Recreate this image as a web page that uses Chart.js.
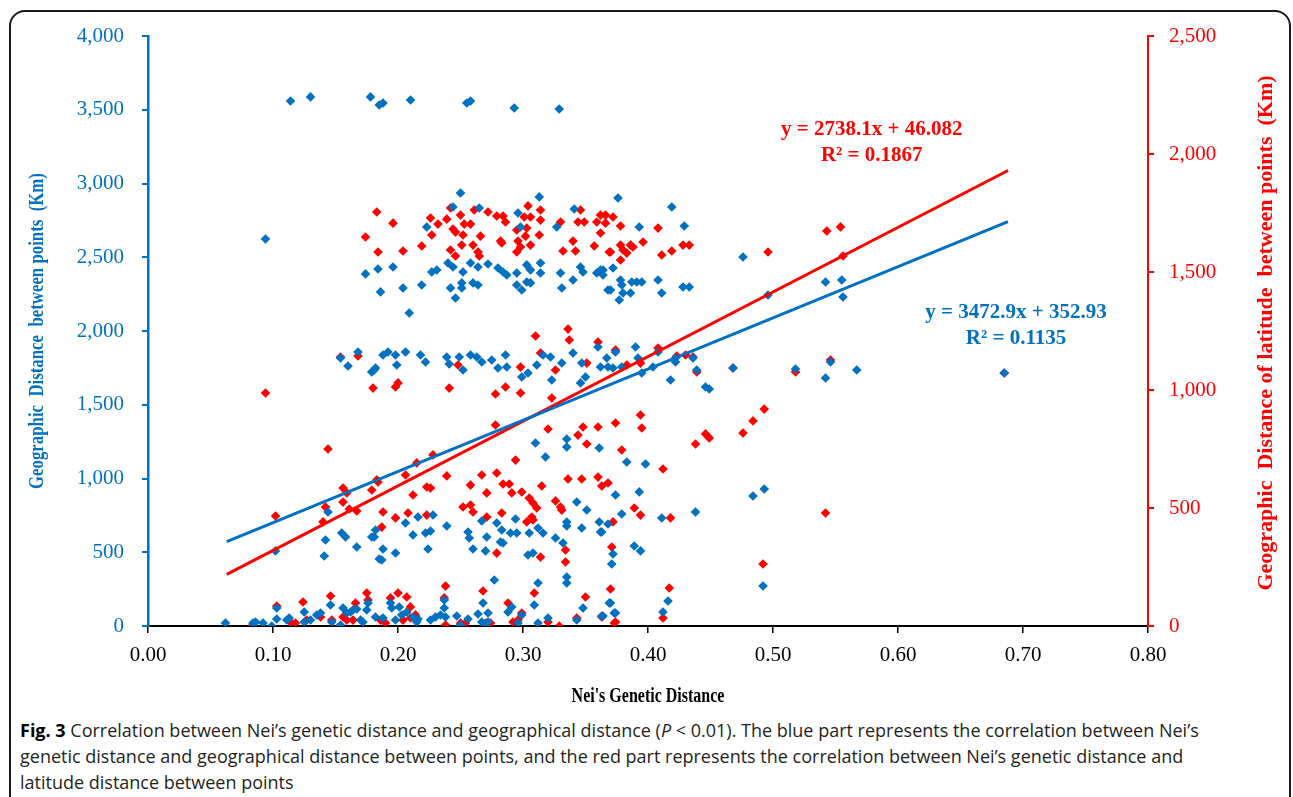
<!DOCTYPE html>
<html>
<head>
<meta charset="utf-8">
<script src="https://cdn.jsdelivr.net/npm/chart.js@4.4.1/dist/chart.umd.min.js"></script>
<style>
  html, body { margin: 0; padding: 0; background: #fff; }
  body { width: 1293px; height: 797px; position: relative; overflow: hidden; }
  #frame {
    position: absolute; left: 9px; top: 10px; width: 1282px; height: 830px;
    border: 2px solid #1a1a1a; border-radius: 16px; box-sizing: border-box;
  }
  #chartCanvas { position: absolute; left: 0; top: 0; }
  #caption {
    position: absolute; left: 20px; top: 717px;
    font-family: "Liberation Sans Narrow", "Open Sans", sans-serif;
    font-size: 18px; line-height: 26px; color: #231f20; white-space: nowrap;
  }
  #caption b { color: #000; }
</style>
</head>
<body>
<div id="frame"></div>
<canvas id="chartCanvas" width="1293" height="715"></canvas>
<div id="caption">
  <div><b>Fig. 3</b> Correlation between Nei’s genetic distance and geographical distance (<i>P</i> &lt; 0.01). The blue part represents the correlation between Nei’s</div>
  <div>genetic distance and geographical distance between points, and the red part represents the correlation between Nei’s genetic distance and</div>
  <div>latitude distance between points</div>
</div>
<script>
// Nei's genetic distance vs geographic distance between points (Km, left axis)
const blueTop = [
  [0.114, 3559], [0.130, 3587], [0.178, 3587], [0.185, 3532], [0.188, 3546],
  [0.210, 3566], [0.255, 3546], [0.258, 3559], [0.293, 3512], [0.329, 3505],
];
const blueUpper = [
  [0.094, 2624], [0.376, 2902], [0.419, 2841], [0.393, 2705], [0.429, 2712], [0.250, 2936],
  [0.313, 2909], [0.244, 2841], [0.265, 2834], [0.296, 2800], [0.341, 2827], [0.223, 2705],
  [0.298, 2705], [0.327, 2705], [0.184, 2420], [0.196, 2434], [0.227, 2400], [0.231, 2414],
  [0.240, 2461], [0.244, 2434], [0.252, 2400], [0.258, 2461], [0.264, 2434], [0.272, 2454],
  [0.280, 2427], [0.284, 2400], [0.287, 2380], [0.295, 2393], [0.303, 2448], [0.306, 2414],
  [0.314, 2461], [0.314, 2393], [0.330, 2393], [0.346, 2434], [0.348, 2400], [0.340, 2346],
  [0.359, 2393], [0.364, 2414], [0.186, 2265], [0.204, 2292], [0.219, 2312], [0.242, 2292],
  [0.251, 2326], [0.251, 2292], [0.260, 2326], [0.264, 2312], [0.246, 2224], [0.295, 2312],
  [0.299, 2278], [0.303, 2332], [0.306, 2326], [0.331, 2292], [0.368, 2278], [0.209, 2122],
  [0.174, 2387], [0.362, 2414], [0.364, 2380], [0.372, 2427], [0.378, 2346], [0.379, 2312],
  [0.370, 2278], [0.380, 2258], [0.386, 2258], [0.377, 2210], [0.387, 2332], [0.391, 2332],
  [0.395, 2332], [0.408, 2346], [0.411, 2258], [0.428, 2298], [0.433, 2298], [0.476, 2502],
  [0.496, 2244], [0.542, 2332], [0.555, 2346], [0.556, 2231],
];
const blueMiddle = [
  [0.154, 1817], [0.168, 1858], [0.160, 1763], [0.179, 1722], [0.182, 1749], [0.188, 1837],
  [0.192, 1858], [0.198, 1837], [0.206, 1858], [0.218, 1837], [0.222, 1790], [0.239, 1824],
  [0.241, 1776], [0.249, 1824], [0.252, 1736], [0.258, 1837], [0.263, 1824], [0.267, 1790],
  [0.275, 1803], [0.280, 1749], [0.286, 1837], [0.287, 1756], [0.299, 1688], [0.304, 1715],
  [0.311, 1770], [0.316, 1837], [0.322, 1824], [0.323, 1668], [0.331, 1783], [0.340, 1851],
  [0.347, 1783], [0.346, 1648], [0.350, 1688], [0.360, 1892], [0.362, 1756], [0.368, 1756],
  [0.181, 1736], [0.199, 1770], [0.374, 1858], [0.390, 1892], [0.408, 1858], [0.367, 1817],
  [0.372, 1749], [0.379, 1756], [0.392, 1817], [0.404, 1756], [0.395, 1715], [0.422, 1817],
  [0.422, 1790], [0.436, 1817], [0.439, 1736], [0.418, 1668], [0.446, 1620], [0.449, 1607],
  [0.468, 1749], [0.518, 1742], [0.546, 1790], [0.542, 1681], [0.567, 1736], [0.685, 1715],
];
const blueLower = [
  [0.144, 773], [0.142, 583], [0.141, 475], [0.155, 631], [0.158, 603], [0.167, 536],
  [0.179, 603], [0.182, 651], [0.185, 454], [0.102, 509], [0.310, 1241], [0.318, 1146],
  [0.335, 1268], [0.335, 1214], [0.361, 1207], [0.216, 739], [0.228, 753], [0.206, 698],
  [0.212, 617], [0.222, 631], [0.226, 644], [0.224, 522], [0.239, 678], [0.256, 637],
  [0.257, 597], [0.260, 522], [0.271, 603], [0.267, 712], [0.279, 698], [0.283, 651],
  [0.282, 570], [0.284, 563], [0.290, 631], [0.294, 725], [0.295, 631], [0.305, 631],
  [0.304, 481], [0.308, 495], [0.312, 664], [0.316, 631], [0.326, 597], [0.332, 563],
  [0.335, 705], [0.335, 678], [0.343, 841], [0.351, 786], [0.347, 664], [0.361, 705],
  [0.362, 637], [0.181, 603], [0.188, 522], [0.187, 447], [0.198, 495], [0.270, 509],
  [0.277, 312], [0.312, 292], [0.335, 332], [0.335, 292], [0.383, 1112], [0.398, 1098],
  [0.374, 888], [0.393, 909], [0.379, 759], [0.411, 732], [0.438, 773], [0.484, 881],
  [0.493, 929], [0.368, 692], [0.363, 637], [0.389, 542], [0.394, 509], [0.372, 488],
  [0.371, 420], [0.492, 271],
];
const blueBottom = [
  [0.369, 156], [0.416, 170], [0.364, 68], [0.374, 88], [0.412, 95], [0.062, 20],
  [0.084, 20], [0.086, 27], [0.092, 20], [0.099, 0], [0.103, 122], [0.103, 47],
  [0.111, 41], [0.113, 54], [0.125, 95], [0.125, 27], [0.130, 41], [0.135, 75],
  [0.138, 88], [0.146, 142], [0.147, 27], [0.154, 7], [0.156, 122], [0.159, 88],
  [0.162, 95], [0.164, 108], [0.167, 115], [0.170, 41], [0.175, 108], [0.172, 27],
  [0.176, 156], [0.182, 61], [0.188, 54], [0.194, 156], [0.195, 122], [0.198, 41],
  [0.201, 129], [0.203, 75], [0.207, 95], [0.212, 61], [0.215, 27], [0.216, 47],
  [0.226, 41], [0.230, 61], [0.234, 75], [0.237, 176], [0.237, 122], [0.238, 61],
  [0.247, 68], [0.250, 7], [0.256, 47], [0.264, 81], [0.267, 27], [0.270, 20],
  [0.272, 27], [0.268, 156], [0.272, 88], [0.288, 95], [0.291, 129], [0.296, 20],
  [0.299, 75], [0.309, 142], [0.312, 20], [0.320, 54], [0.343, 41], [0.348, 122],
  [0.363, 68], [0.370, 156], [0.373, 88],
];

// Nei's genetic distance vs latitude distance between points (Km, right axis)
const redUpper = [
  [0.183, 1754], [0.174, 1648], [0.184, 1585], [0.196, 1707], [0.226, 1729], [0.232, 1703],
  [0.227, 1657], [0.239, 1724], [0.242, 1771], [0.250, 1741], [0.244, 1682], [0.246, 1669],
  [0.253, 1703], [0.258, 1703], [0.252, 1657], [0.261, 1763], [0.272, 1754], [0.279, 1737],
  [0.284, 1737], [0.286, 1712], [0.266, 1652], [0.295, 1678], [0.302, 1652], [0.304, 1780],
  [0.301, 1733], [0.306, 1733], [0.314, 1763], [0.314, 1720], [0.313, 1657], [0.303, 1686],
  [0.330, 1712], [0.346, 1763], [0.344, 1712], [0.349, 1712], [0.359, 1712], [0.362, 1741],
  [0.366, 1741], [0.362, 1665], [0.204, 1589], [0.219, 1610], [0.242, 1593], [0.246, 1568],
  [0.251, 1614], [0.260, 1614], [0.264, 1585], [0.265, 1568], [0.282, 1631], [0.283, 1623],
  [0.296, 1631], [0.298, 1606], [0.295, 1585], [0.306, 1614], [0.340, 1631], [0.332, 1589],
  [0.342, 1589], [0.357, 1610], [0.369, 1585], [0.372, 1733], [0.366, 1707], [0.378, 1695],
  [0.408, 1686], [0.378, 1614], [0.386, 1614], [0.388, 1606], [0.396, 1627], [0.380, 1593],
  [0.383, 1580], [0.378, 1551], [0.370, 1585], [0.411, 1572], [0.419, 1589], [0.428, 1614],
  [0.433, 1614], [0.496, 1585], [0.543, 1674], [0.554, 1691], [0.556, 1568],
];
const redMiddle = [
  [0.310, 1229], [0.336, 1258], [0.337, 1212], [0.360, 1203], [0.154, 1140], [0.168, 1144],
  [0.180, 1008], [0.198, 1013], [0.200, 1030], [0.241, 1008], [0.248, 1106], [0.278, 983],
  [0.286, 1013], [0.298, 987], [0.298, 1097], [0.314, 1157], [0.323, 966], [0.326, 1085],
  [0.351, 1114], [0.374, 1169], [0.408, 1178], [0.423, 1144], [0.430, 1148], [0.436, 1140],
  [0.394, 1114], [0.383, 1106], [0.439, 1076], [0.468, 1093], [0.518, 1076], [0.546, 1127],
  [0.685, 1072], [0.094, 987],
];
const redLower = [
  [0.144, 750], [0.102, 466], [0.156, 585], [0.156, 525], [0.159, 564], [0.161, 496],
  [0.167, 487], [0.179, 576], [0.183, 619], [0.142, 504], [0.140, 441], [0.278, 852],
  [0.320, 835], [0.344, 809], [0.348, 843], [0.360, 843], [0.351, 771], [0.294, 703],
  [0.215, 691], [0.228, 725], [0.206, 640], [0.239, 636], [0.267, 640], [0.279, 648],
  [0.284, 602], [0.289, 602], [0.315, 593], [0.258, 597], [0.223, 589], [0.226, 585],
  [0.212, 555], [0.271, 564], [0.291, 564], [0.305, 542], [0.299, 568], [0.336, 623],
  [0.347, 623], [0.360, 631], [0.363, 593], [0.368, 606], [0.326, 530], [0.330, 504],
  [0.331, 491], [0.252, 504], [0.258, 513], [0.260, 483], [0.283, 479], [0.271, 462],
  [0.308, 521], [0.311, 500], [0.303, 441], [0.308, 449], [0.307, 462], [0.188, 483],
  [0.208, 479], [0.198, 458], [0.223, 470], [0.187, 419], [0.184, 610], [0.334, 322],
  [0.334, 271], [0.314, 292], [0.279, 309], [0.394, 894], [0.374, 860], [0.395, 839],
  [0.379, 746], [0.438, 771], [0.446, 814], [0.449, 797], [0.476, 818], [0.484, 869],
  [0.493, 919], [0.412, 665], [0.389, 500], [0.394, 470], [0.418, 458], [0.372, 441],
  [0.542, 479], [0.492, 263], [0.371, 335],
];
const redBottom = [
  [0.370, 157], [0.417, 161], [0.374, 17], [0.412, 34], [0.124, 102], [0.103, 85],
  [0.146, 127], [0.147, 25], [0.166, 97], [0.175, 140], [0.176, 110], [0.194, 119],
  [0.200, 140], [0.207, 123], [0.210, 81], [0.084, 4], [0.114, 17], [0.118, 13],
  [0.127, 25], [0.138, 38], [0.156, 38], [0.159, 25], [0.164, 25], [0.186, 25],
  [0.190, 13], [0.204, 25], [0.210, 34], [0.214, 47], [0.238, 169], [0.237, 119],
  [0.238, 4], [0.250, 13], [0.254, 13], [0.268, 148], [0.270, 0], [0.274, 13],
  [0.288, 97], [0.292, 17], [0.299, 55], [0.296, 25], [0.309, 140], [0.320, 17],
  [0.329, 0], [0.350, 123], [0.343, 34], [0.363, 38], [0.373, 13],
];

// linear trend lines, end points
const blueTrend = [[0.063, 572], [0.688, 2742]];
const redTrend = [[0.063, 219], [0.688, 1930]];

const xTicks = [0, 0.1, 0.2, 0.3, 0.4, 0.5, 0.6, 0.7, 0.8];
const blueEquation = ["y = 3472.9x + 352.93", "R² = 0.1135"];
const redEquation = ["y = 2738.1x + 46.082", "R² = 0.1867"];

(() => {
  const BLUE = "#0070c0";
  const RED = "#ff0000";
  const SERIF = '"Liberation Serif", "Times New Roman", serif';

  function toXY(list) {
    return list.map(([x, y]) => ({ x: x, y: y }));
  }

  function drawText(ctx, text, x, y, opts) {
    ctx.save();
    ctx.translate(x, y);
    if (opts.rotate) ctx.rotate(opts.rotate);
    ctx.scale(opts.squeeze || 1, 1);
    ctx.font = opts.font;
    ctx.fillStyle = opts.color;
    ctx.textAlign = "center";
    ctx.textBaseline = "middle";
    ctx.fillText(text, 0, 0);
    ctx.restore();
  }

  const labelsPlugin = {
    id: "labels",
    afterDraw(chart) {
      const { ctx, chartArea, scales } = chart;
      const midY = (chartArea.top + chartArea.bottom) / 2;
      const midX = (chartArea.left + chartArea.right) / 2;

      // equations
      const rx = scales.x.getPixelForValue(0.579);
      const ry = scales.y1.getPixelForValue(2102);
      drawText(ctx, redEquation[0], rx, ry, { font: "bold 21px " + SERIF, color: RED });
      drawText(ctx, redEquation[1], rx, ry + 26, { font: "bold 21px " + SERIF, color: RED });
      const bx = scales.x.getPixelForValue(0.6944);
      const by = scales.y.getPixelForValue(2122);
      drawText(ctx, blueEquation[0], bx, by, { font: "bold 21px " + SERIF, color: BLUE });
      drawText(ctx, blueEquation[1], bx, by + 26, { font: "bold 21px " + SERIF, color: BLUE });

      // axis titles
      drawText(ctx, "Nei's Genetic Distance", midX, 697, {
        font: "bold 20px " + SERIF, color: "#000", squeeze: 0.8,
      });
      drawText(ctx, "Geographic  Distance  between points  (Km)", 38, midY, {
        font: "bold 20px " + SERIF, color: BLUE, rotate: -Math.PI / 2, squeeze: 0.84,
      });
      drawText(ctx, "Geographic  Distance of latitude  between points  (Km)", 1266, midY + 2, {
        font: "bold 22px " + SERIF, color: RED, rotate: -Math.PI / 2,
      });
    },
  };

  const ctx = document.getElementById("chartCanvas").getContext("2d");
  new Chart(ctx, {
    type: "scatter",
    data: {
      datasets: [
        {
          label: "Geographic trend",
          data: toXY(blueTrend),
          yAxisID: "y",
          showLine: true,
          borderColor: BLUE,
          borderWidth: 3,
          pointRadius: 0,
        },
        {
          label: "Latitude trend",
          data: toXY(redTrend),
          yAxisID: "y1",
          showLine: true,
          borderColor: RED,
          borderWidth: 3,
          pointRadius: 0,
        },
        {
          label: "Geographic distance",
          data: toXY([].concat(blueTop, blueUpper, blueMiddle, blueLower, blueBottom)),
          yAxisID: "y",
          pointStyle: "rectRot",
          pointRadius: 4.8,
          backgroundColor: BLUE,
          borderColor: BLUE,
          borderWidth: 0,
        },
        {
          label: "Latitude distance",
          data: toXY([].concat(redUpper, redMiddle, redLower, redBottom)),
          yAxisID: "y1",
          pointStyle: "rectRot",
          pointRadius: 4.8,
          backgroundColor: RED,
          borderColor: RED,
          borderWidth: 0,
        },
      ],
    },
    options: {
      responsive: false,
      animation: false,
      layout: { padding: { top: 36, left: 0, right: 0, bottom: 0 } },
      plugins: {
        legend: { display: false },
        tooltip: { enabled: false },
      },
      scales: {
        x: {
          type: "linear",
          min: 0,
          max: 0.8,
          afterBuildTicks: (scale) => {
            scale.ticks = xTicks.map((v) => ({ value: v }));
          },
          ticks: {
            color: "#000",
            font: { family: SERIF, size: 21 },
            padding: 10,
            maxRotation: 0,
            callback: (val) => Number(val).toFixed(2),
          },
          grid: { drawOnChartArea: false, color: "#000", tickLength: 7, lineWidth: 1.5 },
          border: { color: "#000", width: 2 },
          afterFit: (scale) => {
            scale.height = 89;
          },
        },
        y: {
          position: "left",
          min: 0,
          max: 4000,
          ticks: {
            stepSize: 500,
            color: BLUE,
            font: { family: SERIF, size: 21 },
            padding: 18,
            callback: (val) => val.toLocaleString("en-US"),
          },
          grid: { drawOnChartArea: false, color: BLUE, tickLength: 6, lineWidth: 2 },
          border: { color: BLUE, width: 2.5 },
          afterFit: (scale) => {
            scale.width = 148;
          },
        },
        y1: {
          position: "right",
          min: 0,
          max: 2500,
          ticks: {
            stepSize: 500,
            color: RED,
            font: { family: SERIF, size: 21 },
            padding: 15,
            callback: (val) => val.toLocaleString("en-US"),
          },
          grid: { drawOnChartArea: false, color: RED, tickLength: 6, lineWidth: 2 },
          border: { color: RED, width: 2 },
          afterFit: (scale) => {
            scale.width = 145;
          },
        },
      },
    },
    plugins: [labelsPlugin],
  });
})();
</script>
</body>
</html>
